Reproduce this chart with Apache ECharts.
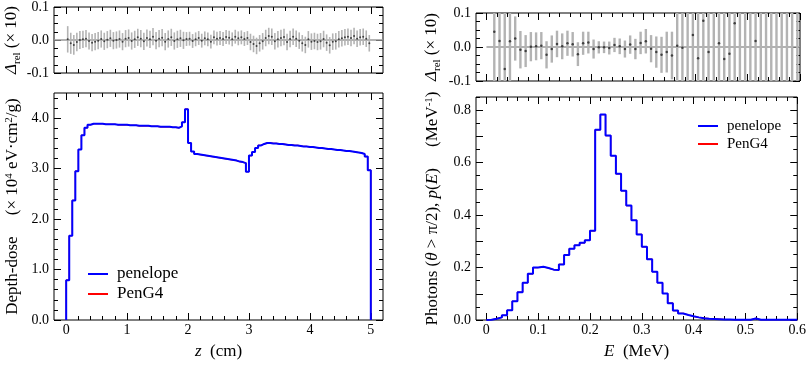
<!DOCTYPE html>
<html>
<head>
<meta charset="utf-8">
<script src="https://cdn.jsdelivr.net/npm/echarts@6/dist/echarts.min.js"></script>
<style>
  html, body { margin: 0; padding: 0; background: #fff; }
  #chart { width: 809px; height: 365px; }
</style>
</head>
<body>
<div id="chart"></div>
<script>
// 深度剂量，每个 bin 0.05 cm
const doseBinWidth = 0.05;
const doseValues = [
  0.79, 1.67, 2.37, 2.95, 3.38, 3.66, 3.81, 3.87, 3.89, 3.89,
  3.89, 3.89, 3.88, 3.88, 3.88, 3.88, 3.87, 3.87, 3.87, 3.87,
  3.86, 3.86, 3.86, 3.85, 3.85, 3.85, 3.85, 3.84, 3.84, 3.84,
  3.83, 3.83, 3.83, 3.83, 3.82, 3.82, 3.81, 3.84, 3.92, 4.18,
  3.51, 3.34, 3.29, 3.28, 3.27, 3.26, 3.25, 3.24, 3.23, 3.22,
  3.21, 3.20, 3.19, 3.18, 3.17, 3.16, 3.14, 3.13, 3.11, 2.94,
  3.26, 3.33, 3.41, 3.46, 3.49, 3.51, 3.51, 3.50, 3.50, 3.49,
  3.49, 3.48, 3.47, 3.47, 3.46, 3.46, 3.45, 3.44, 3.44, 3.43,
  3.43, 3.42, 3.41, 3.41, 3.40, 3.39, 3.39, 3.38, 3.37, 3.37,
  3.36, 3.35, 3.35, 3.34, 3.33, 3.32, 3.31, 3.29, 3.24, 2.97
];
// 相对偏差 (×10) 及误差
const doseResidual = [
  0.002, -0.010, -0.015, -0.006, 0.000, 0.002, 0.004, -0.003, -0.008, -0.005,
  -0.002, 0.003, -0.004, 0.001, 0.005, -0.002, 0.000, 0.003, -0.005, 0.004,
  0.006, -0.003, 0.002, 0.008, 0.004, -0.004, 0.006, 0.002, 0.010, -0.002,
  0.004, 0.007, -0.005, 0.003, 0.008, -0.003, 0.002, 0.005, -0.001, 0.003,
  0.004, -0.003, 0.002, 0.006, -0.002, 0.005, 0.002, -0.005, 0.008, 0.004,
  0.006, 0.003, 0.009, 0.007, 0.002, 0.010, 0.005, 0.008, 0.003, 0.006,
  -0.006, -0.012, -0.018, -0.010, -0.004, 0.006, 0.012, 0.010, -0.004, 0.002,
  0.006, 0.009, -0.006, 0.003, 0.010, 0.004, -0.002, -0.010, -0.015, 0.002,
  -0.005, -0.003, -0.006, -0.004, 0.003, -0.008, -0.016, -0.005, -0.004, 0.002,
  0.005, 0.008, 0.010, 0.006, 0.012, 0.004, 0.008, 0.010, 0.004, -0.010
];
const doseResidualErr = [
  0.040, 0.032, 0.030, 0.028, 0.027, 0.026, 0.026, 0.026, 0.026, 0.026,
  0.026, 0.026, 0.026, 0.026, 0.026, 0.026, 0.026, 0.026, 0.026, 0.026,
  0.026, 0.026, 0.026, 0.026, 0.026, 0.026, 0.026, 0.026, 0.026, 0.026,
  0.026, 0.026, 0.026, 0.026, 0.026, 0.026, 0.026, 0.026, 0.026, 0.021,
  0.021, 0.021, 0.021, 0.021, 0.021, 0.021, 0.021, 0.021, 0.021, 0.021,
  0.021, 0.021, 0.021, 0.021, 0.021, 0.021, 0.021, 0.021, 0.021, 0.021,
  0.025, 0.025, 0.025, 0.025, 0.025, 0.025, 0.025, 0.025, 0.025, 0.025,
  0.025, 0.025, 0.025, 0.025, 0.025, 0.025, 0.025, 0.025, 0.025, 0.025,
  0.025, 0.025, 0.025, 0.025, 0.025, 0.025, 0.025, 0.025, 0.025, 0.025,
  0.025, 0.025, 0.025, 0.025, 0.025, 0.025, 0.025, 0.025, 0.025, 0.025
];

// 背散射光子能谱，每个 bin 0.01 MeV
const specBinWidth = 0.01;
const specValues = [
  0.001, 0.005, 0.010, 0.018, 0.037, 0.071, 0.106, 0.142, 0.176, 0.200,
  0.203, 0.198, 0.192, 0.191, 0.212, 0.248, 0.272, 0.285, 0.294, 0.304,
  0.340, 0.725, 0.783, 0.703, 0.626, 0.557, 0.493, 0.436, 0.380, 0.326,
  0.279, 0.232, 0.184, 0.142, 0.101, 0.064, 0.036, 0.025, 0.019, 0.014,
  0.010, 0.007, 0.005, 0.004, 0.003, 0.002, 0.002, 0.001, 0.001, 0.001,
  0.001, 0.006, 0.001, 0.001, 0.001, 0.001, 0.001, 0.001, 0.001, 0.001
];
const specResidual = [
  null, 0.045, 0.018, -0.065, 0.017, 0.025, -0.008, -0.012, 0.001, 0.002,
  0.004, -0.023, -0.006, 0.009, 0.002, 0.011, 0.008, -0.021, 0.011, 0.013,
  -0.006, -0.001, -0.001, -0.003, 0.006, 0.002, -0.006, 0.007, -0.006, 0.012,
  0.017, -0.005, -0.015, -0.023, -0.015, -0.025, 0.004, -0.002, null, 0.035,
  -0.033, 0.077, -0.015, null, 0.011, -0.035, -0.020, 0.070, null, null,
  null, 0.018, null, null, null, null, null, null, null, null
];
const specResidualErr = [
  null, 0.30, 0.30, 0.30, 0.30, 0.065, 0.055, 0.047, 0.043, 0.041,
  0.040, 0.040, 0.040, 0.039, 0.038, 0.037, 0.036, 0.035, 0.034, 0.032,
  0.028, 0.018, 0.017, 0.019, 0.021, 0.023, 0.025, 0.027, 0.030, 0.033,
  0.036, 0.040, 0.046, 0.053, 0.060, 0.070, 0.30, 0.30, 0.30, 0.30,
  0.30, 0.30, 0.30, 0.30, 0.30, 0.30, 0.30, 0.30, 0.30, 0.30,
  0.30, 0.30, 0.30, 0.30, 0.30, 0.30, 0.30, 0.30, 0.30, 0.30
];

// 刻度
const zMajor = [0, 1, 2, 3, 4, 5];
const eMajor = [0, 0.1, 0.2, 0.3, 0.4, 0.5, 0.6];
const doseMajor = [0, 1, 2, 3, 4];
const specMajor = [0, 0.1, 0.2, 0.3, 0.4, 0.5, 0.6, 0.7, 0.8];
const specLabels = [0, 0.2, 0.4, 0.6, 0.8];
const residMajor = [-0.1, 0, 0.1];

// 次刻度：在 from..to 之间按 step 取点，去掉主刻度
function minorOf(from, to, step, major) {
  let res = [];
  let n = Math.round((to - from) / step);
  for (let i = 0; i <= n; i++) {
    let v = +(from + i * step).toFixed(4);
    if (!major.some(m => Math.abs(m - v) < 1e-9)) res.push(v);
  }
  return res;
}
const zMinor = minorOf(0, 5, 0.2, zMajor);
const eMinor = minorOf(0, 0.6, 0.02, eMajor);
const doseMinor = minorOf(0, 4.4, 0.2, doseMajor);
const specMinor = minorOf(0.05, 0.8, 0.1, []);
const residMinor = minorOf(-0.075, 0.075, 0.025, residMajor);

const FONT = "'Liberation Serif', 'DejaVu Serif', serif";

const xAxes = [];
const yAxes = [];

// 每个方向四根轴：主刻度+标签，次刻度，对侧主刻度，对侧次刻度
function addAxes(list, o) {
  const base = {
    gridIndex: o.grid,
    type: 'value',
    min: o.min,
    max: o.max,
    axisLine: { show: false, onZero: false },
    splitLine: { show: false },
  };
  const idx = list.length;
  const tick = (vals, len) => ({
    show: true,
    inside: true,
    length: len,
    customValues: vals,
    lineStyle: { color: '#000', width: 1 },
  });
  list.push({
    ...base,
    position: o.pos,
    axisTick: tick(o.major, 7),
    axisLabel: o.labels ? {
      show: true,
      customValues: o.labels,
      formatter: o.fmt,
      margin: o.margin,
      fontFamily: FONT,
      fontSize: 14,
      color: '#000',
    } : { show: false },
    name: o.name || '',
    nameLocation: 'middle',
    nameGap: o.nameGap || 0,
    nameTextStyle: {
      fontFamily: FONT,
      fontSize: 17,
      color: '#000',
      rich: o.rich || {},
    },
  });
  list.push({ ...base, position: o.pos, axisTick: tick(o.minor, 4), axisLabel: { show: false } });
  list.push({ ...base, position: o.opp, axisTick: tick(o.major, 7), axisLabel: { show: false } });
  list.push({ ...base, position: o.opp, axisTick: tick(o.minor, 4), axisLabel: { show: false } });
  return idx;
}

const richTitle = (size) => ({
  t: { fontFamily: FONT, fontSize: size, color: '#000' },
  i: { fontFamily: FONT, fontSize: size, fontStyle: 'italic', color: '#000' },
  sup: { fontFamily: FONT, fontSize: Math.round(size * 0.65), verticalAlign: 'top', color: '#000' },
});
const richDelta = {
  d: { fontFamily: FONT, fontSize: 17, fontStyle: 'italic', lineHeight: 22, color: '#000' },
  s: { fontFamily: FONT, fontSize: 11, verticalAlign: 'bottom', color: '#000' },
  t: { fontFamily: FONT, fontSize: 17, lineHeight: 22, color: '#000' },
};

const fmt1 = v => v.toFixed(1);
const fmtE = v => (v === 0 ? '0' : v.toFixed(1));
const fmtZ = v => String(v);

// grid 0: 左上偏差, 1: 左下深度剂量, 2: 右上偏差, 3: 右下能谱
const grids = [
  { left: 54, right: 426, top: 7, height: 66 },
  { left: 54, right: 426, top: 93, bottom: 41 },
  { left: 476, right: 9, top: 13, height: 68 },
  { left: 476, right: 9, top: 97, bottom: 41 },
].map(g => ({ ...g, show: true, borderColor: '#000', borderWidth: 1, backgroundColor: 'transparent', containLabel: false }));

const xTL = addAxes(xAxes, { grid: 0, min: -0.2, max: 5.2, major: zMajor, minor: zMinor, pos: 'bottom', opp: 'top' });
const yTL = addAxes(yAxes, {
  grid: 0, min: -0.1, max: 0.1, major: residMajor, minor: residMinor, pos: 'left', opp: 'right',
  labels: residMajor, fmt: fmt1, margin: 5,
  name: '{d|Δ}{s|rel} {t|(× 10)}', nameGap: 30, rich: richDelta,
});
const xBL = addAxes(xAxes, {
  grid: 1, min: -0.2, max: 5.2, major: zMajor, minor: zMinor, pos: 'bottom', opp: 'top',
  labels: zMajor, fmt: fmtZ, margin: 3,
  name: '{i|z}{t|  (cm)}', nameGap: 23, rich: richTitle(17),
});
const yBL = addAxes(yAxes, {
  grid: 1, min: 0, max: 4.5, major: doseMajor, minor: doseMinor, pos: 'left', opp: 'right',
  labels: doseMajor, fmt: fmt1, margin: 5,
  name: '{t|Depth-dose     (× 10}{sup|4}{t| eV·cm}{sup|2}{t|/g)}', nameGap: 33, rich: richTitle(17),
});
const xTR = addAxes(xAxes, { grid: 2, min: -0.02, max: 0.6, major: eMajor, minor: eMinor, pos: 'bottom', opp: 'top' });
const yTR = addAxes(yAxes, {
  grid: 2, min: -0.1, max: 0.1, major: residMajor, minor: residMinor, pos: 'left', opp: 'right',
  labels: residMajor, fmt: fmt1, margin: 5,
  name: '{d|Δ}{s|rel} {t|(× 10)}', nameGap: 33, rich: richDelta,
});
const xBR = addAxes(xAxes, {
  grid: 3, min: -0.02, max: 0.6, major: eMajor, minor: eMinor, pos: 'bottom', opp: 'top',
  labels: eMajor, fmt: fmtE, margin: 3,
  name: '{i|E}{t|  (MeV)}', nameGap: 23, rich: richTitle(17),
});
const yBR = addAxes(yAxes, {
  grid: 3, min: 0, max: 0.85, major: specMajor, minor: specMinor, pos: 'left', opp: 'right',
  labels: specLabels, fmt: fmt1, margin: 5,
  name: '{t|Photons (}{i|θ}{t| > π/2), }{i|p}{t|(}{i|E}{t|)     (MeV}{sup|-1}{t|)}', nameGap: 35, rich: richTitle(17),
});

// 直方图转成阶梯线的点（每个 bin 的左边沿）
function histPoints(values, width, closeToZero) {
  let pts = [[0, 0]];
  values.forEach((v, i) => pts.push([+(i * width).toFixed(4), v]));
  let end = +(values.length * width).toFixed(4);
  pts.push([end, closeToZero ? 0 : values[values.length - 1]]);
  return pts;
}

function residPoints(values, width) {
  let pts = [];
  values.forEach((v, i) => {
    if (v !== null) pts.push([(i + 0.5) * width, v]);
  });
  return pts;
}

function errPoints(values, errs, width) {
  let pts = [];
  errs.forEach((e, i) => {
    if (e !== null) pts.push([(i + 0.5) * width, values[i] === null ? 0 : values[i], e]);
  });
  return pts;
}

function errSeries(xi, yi, data, w) {
  return {
    type: 'custom',
    xAxisIndex: xi,
    yAxisIndex: yi,
    clip: true,
    silent: true,
    data: data,
    renderItem: (params, api) => {
      const x = api.value(0), y = api.value(1), e = api.value(2);
      const p1 = api.coord([x, y + e]);
      const p2 = api.coord([x, y - e]);
      return {
        type: 'line',
        shape: { x1: p1[0], y1: p1[1], x2: p2[0], y2: p2[1] },
        style: { stroke: '#b3b3b3', lineWidth: w },
      };
    },
    z: 2,
  };
}

function dotSeries(xi, yi, data, size, zeroLine) {
  return {
    type: 'scatter',
    xAxisIndex: xi,
    yAxisIndex: yi,
    data: data,
    symbolSize: size,
    itemStyle: { color: '#222' },
    clip: true,
    silent: true,
    z: 3,
    markLine: {
      silent: true,
      symbol: 'none',
      label: { show: false },
      lineStyle: { color: '#999', width: 1.5, type: 'solid' },
      data: zeroLine,
      z: 1,
    },
  };
}

function stepLine(name, color, width, xi, yi, data) {
  return {
    name: name,
    type: 'line',
    xAxisIndex: xi,
    yAxisIndex: yi,
    data: data,
    step: 'end',
    symbol: 'none',
    clip: true,
    lineStyle: { color: color, width: width },
    itemStyle: { color: color },
  };
}

const doseLine = histPoints(doseValues, doseBinWidth, true);
const specLine = histPoints(specValues, specBinWidth, false);

let option = {
  animation: false,
  backgroundColor: '#fff',
  grid: grids,
  xAxis: xAxes,
  yAxis: yAxes,
  legend: [
    {
      orient: 'vertical',
      left: 88,
      top: 264,
      padding: 0,
      itemGap: 0,
      itemWidth: 20,
      itemHeight: 2,
      icon: 'rect',
      data: ['penelope', 'PenG4'],
      textStyle: { fontFamily: FONT, fontSize: 17, color: '#000', lineHeight: 20, padding: [0, 0, 0, 4] },
    },
    {
      orient: 'vertical',
      left: 698,
      top: 117,
      padding: 0,
      itemGap: 0,
      itemWidth: 20,
      itemHeight: 2,
      icon: 'rect',
      data: ['penelope', 'PenG4'],
      textStyle: { fontFamily: FONT, fontSize: 15, color: '#000', lineHeight: 18, padding: [0, 0, 0, 4] },
    },
  ],
  series: [
    errSeries(xTL, yTL, errPoints(doseResidual, doseResidualErr, doseBinWidth), 1.6),
    dotSeries(xTL, yTL, residPoints(doseResidual, doseBinWidth), 2, [{ yAxis: 0 }]),
    errSeries(xTR, yTR, errPoints(specResidual, specResidualErr, specBinWidth), 2.4),
    dotSeries(xTR, yTR, residPoints(specResidual, specBinWidth), 2.5, [[{ coord: [0, 0] }, { coord: [0.6, 0] }]]),
    stepLine('PenG4', '#ff0000', 1.2, xBL, yBL, doseLine),
    stepLine('penelope', '#0000ff', 2, xBL, yBL, doseLine),
    stepLine('PenG4', '#ff0000', 1.2, xBR, yBR, specLine),
    stepLine('penelope', '#0000ff', 2, xBR, yBR, specLine),
  ],
};

const myChart = echarts.init(document.getElementById('chart'));
myChart.setOption(option);
</script>
</body>
</html>
